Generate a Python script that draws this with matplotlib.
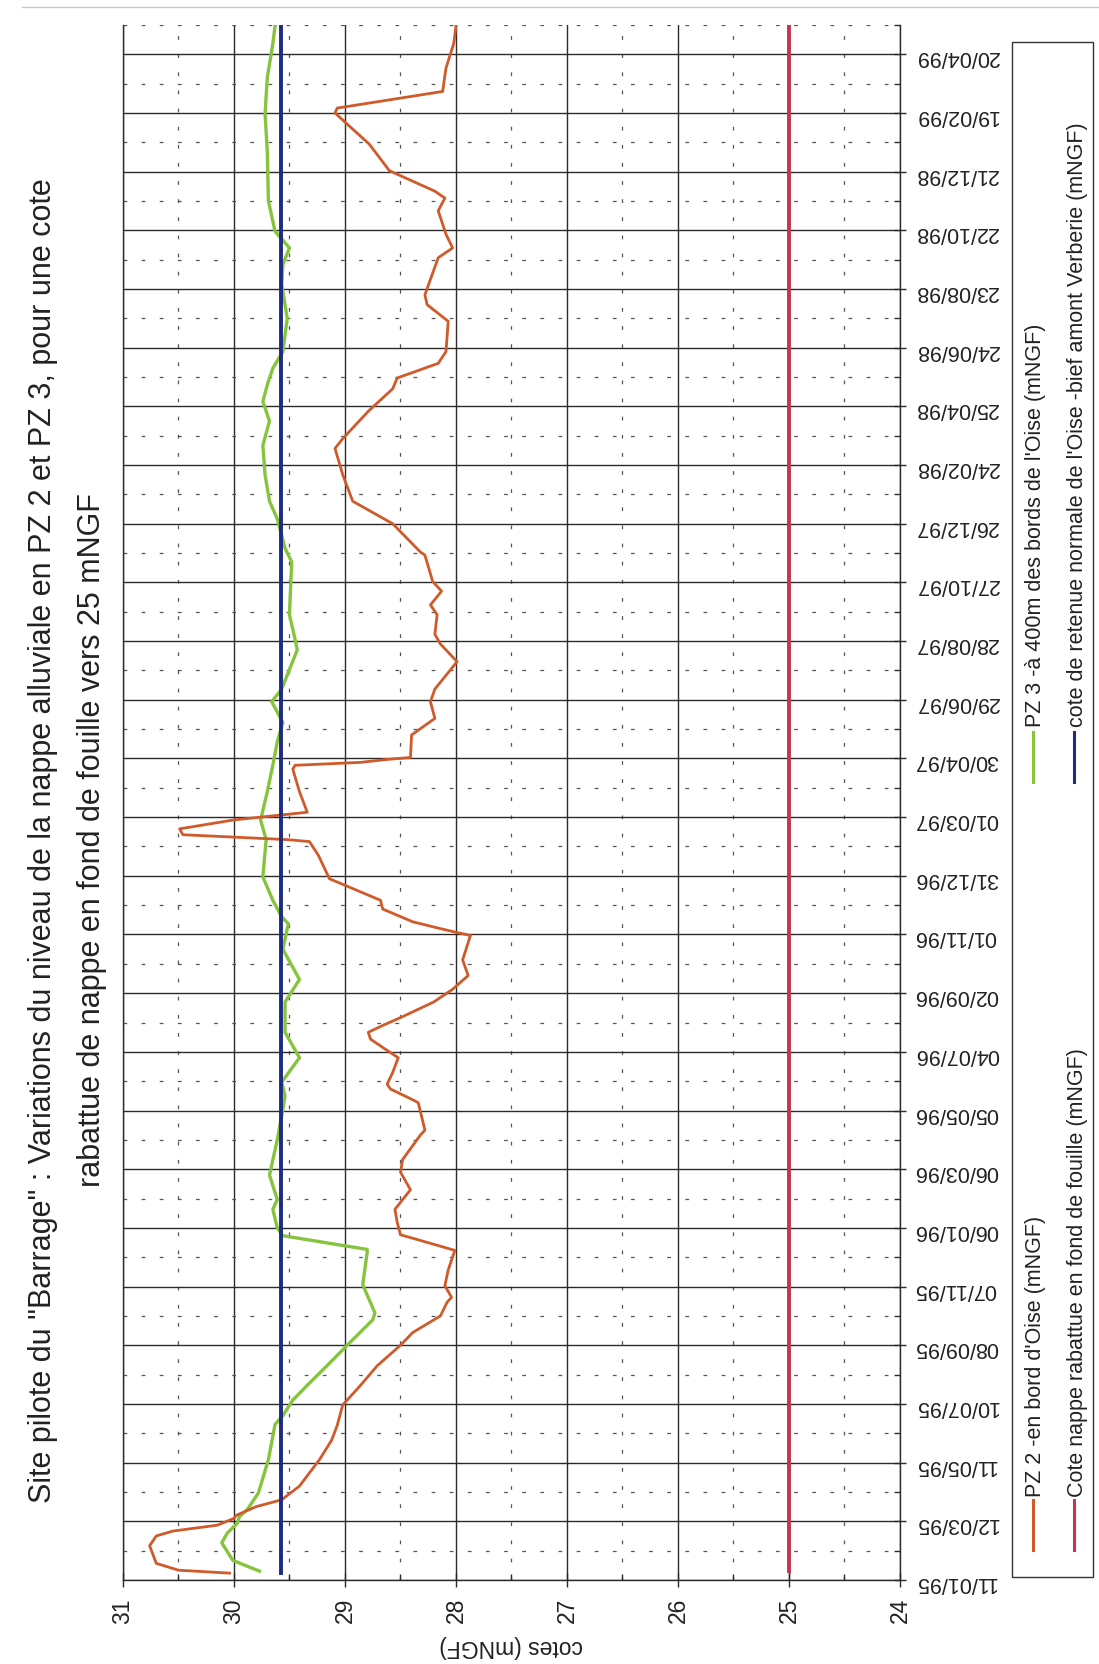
import numpy as np
import pandas as pd
import matplotlib
matplotlib.use("Agg")
import matplotlib.pyplot as plt
import matplotlib.dates as mdates
from matplotlib.ticker import MultipleLocator, FixedLocator
from matplotlib.lines import Line2D
from matplotlib.patches import Rectangle

plt.rcParams['font.family'] = ['Liberation Sans', 'DejaVu Sans']

# ---------------- data ----------------
START = pd.Timestamp('1995-01-11')
TICK_STEP_DAYS = 60
N_MAJOR = 27
AXIS_END_DAYS = 1590

# PZ 2 (days since 11/01/95, cote mNGF)
pz2_days = [7, 10, 17, 35, 45, 50, 56, 63, 66, 69, 75, 82, 96, 123, 143, 158, 179, 199, 219, 240,
            253, 270, 284, 289, 301, 317, 337, 353, 366, 379, 399, 417, 430, 455, 460, 488, 491, 502,
            507, 519, 534, 543, 553, 560, 567, 575, 591, 604, 618, 634, 659, 662, 666, 673, 686, 695,
            717, 741, 755, 757, 762, 768, 777, 785, 806, 829, 833, 836, 839, 841, 864, 881, 898, 911,
            939, 957, 967, 987, 997, 1011, 1021, 1048, 1051, 1080, 1103, 1130, 1157, 1167, 1195, 1218,
            1229, 1244, 1256, 1287, 1304, 1314, 1352, 1362, 1376, 1400, 1413, 1420, 1441, 1468, 1500,
            1505, 1522, 1546, 1571, 1589]
pz2_cote = [30.04, 30.50, 30.70, 30.76, 30.70, 30.55, 30.15, 30.00, 29.98, 29.92, 29.80, 29.57, 29.41,
            29.23, 29.12, 29.07, 29.02, 28.86, 28.71, 28.50, 28.39, 28.14, 28.08, 28.04, 28.10, 28.07,
            28.01, 28.50, 28.53, 28.55, 28.41, 28.50, 28.48, 28.32, 28.28, 28.34, 28.39, 28.59, 28.62,
            28.57, 28.52, 28.64, 28.77, 28.79, 28.66, 28.50, 28.20, 28.03, 27.89, 27.94, 27.87, 27.99,
            28.14, 28.39, 28.66, 28.68, 29.14, 29.24, 29.32, 29.52, 30.46, 30.49, 30.01, 29.34, 29.41,
            29.47, 29.45, 28.86, 28.62, 28.41, 28.40, 28.19, 28.23, 28.19, 27.99, 28.14, 28.19, 28.17,
            28.23, 28.13, 28.21, 28.28, 28.32, 28.57, 28.93, 29.02, 29.09, 29.02, 28.79, 28.57, 28.53,
            28.16, 28.09, 28.07, 28.26, 28.28, 28.16, 28.03, 28.09, 28.16, 28.10, 28.19, 28.60, 28.78,
            29.09, 29.07, 28.12, 28.09, 28.02, 28.00]

# PZ 3
pz3_days = [9, 20, 38, 48, 58, 65, 72, 89, 123, 159, 168, 184, 199, 225, 240, 266, 273, 302, 335, 338,
            352, 360, 379, 389, 414, 450, 481, 495, 509, 534, 560, 591, 614, 645, 671, 678, 695, 719,
            757, 777, 806, 833, 857, 877, 898, 911, 951, 962, 987, 1041, 1055, 1085, 1103, 1130, 1160,
            1185, 1205, 1222, 1239, 1256, 1290, 1325, 1345, 1362, 1379, 1410, 1461, 1499, 1536, 1571,
            1589]
pz3_cote = [29.77, 30.01, 30.11, 30.06, 29.97, 29.95, 29.88, 29.78, 29.69, 29.63, 29.56, 29.47, 29.34,
            29.11, 28.98, 28.75, 28.73, 28.84, 28.80, 28.80, 29.56, 29.61, 29.65, 29.61, 29.68, 29.61,
            29.56, 29.54, 29.57, 29.41, 29.54, 29.54, 29.41, 29.56, 29.51, 29.57, 29.65, 29.74, 29.71,
            29.76, 29.70, 29.65, 29.61, 29.56, 29.66, 29.57, 29.43, 29.45, 29.50, 29.48, 29.54, 29.61,
            29.68, 29.72, 29.74, 29.68, 29.74, 29.70, 29.65, 29.56, 29.52, 29.57, 29.56, 29.50, 29.63,
            29.69, 29.70, 29.72, 29.70, 29.65, 29.63]

# constant levels
retenue_days = [7, 1589]
retenue_cote = [29.58, 29.58]
fouille_days = [9, 1589]
fouille_cote = [25.0, 25.0]

title_text = ('Site pilote du "Barrage" : Variations du niveau de la nappe alluviale en PZ 2 et PZ 3, pour une cote\n'
              'rabattue de nappe en fond de fouille vers 25 mNGF')
axis_label = 'cotes (mNGF)'
lab_pz2 = "PZ 2 -en bord d'Oise (mNGF)"
lab_fouille = 'Cote nappe rabattue en fond de fouille (mNGF)'
lab_pz3 = "PZ 3 -à 400m des bords de l'Oise (mNGF)"
lab_retenue = "cote de retenue normale de l'Oise -bief amont Verberie (mNGF)"

c_pz2 = '#cf5a2a'
c_pz3 = '#86c43e'
c_ret = '#1d2b82'
c_fou = '#c23650'
c_txt = '#222222'


def to_num(days):
    d = START + pd.to_timedelta(np.asarray(days, dtype=float), unit='D')
    return mdates.date2num(d.to_pydatetime())


# ---------------- figure ----------------
fig = plt.figure(figsize=(10.99, 16.64), dpi=100)
fig.patch.set_facecolor('white')
ax = fig.add_axes([0.1119, 0.0505, 0.7070, 0.9345])

ax.plot(pz2_cote, to_num(pz2_days), color=c_pz2, lw=2.0, zorder=4)
ax.plot(pz3_cote, to_num(pz3_days), color=c_pz3, lw=2.4, zorder=3)
ax.plot(retenue_cote, to_num(retenue_days), color=c_ret, lw=2.8, zorder=5)
ax.plot(fouille_cote, to_num(fouille_days), color=c_fou, lw=2.8, zorder=5)

ax.set_xlim(31, 24)
ax.set_ylim(to_num([0])[0], to_num([AXIS_END_DAYS])[0])

ax.xaxis.set_major_locator(MultipleLocator(1))
ax.xaxis.set_minor_locator(MultipleLocator(0.5))
ax.xaxis.set_major_formatter(matplotlib.ticker.FuncFormatter(lambda v, p: f'{v:.0f}'))

major_days = [TICK_STEP_DAYS * k for k in range(N_MAJOR)]
minor_days = [TICK_STEP_DAYS * k + TICK_STEP_DAYS // 2 for k in range(N_MAJOR)]
ax.yaxis.set_major_locator(FixedLocator(to_num(major_days)))
ax.yaxis.set_minor_locator(FixedLocator(to_num(minor_days)))
ax.yaxis.set_major_formatter(mdates.DateFormatter('%d/%m/%y'))

ax.set_axisbelow(True)
ax.grid(which='major', color='#2a2a2a', lw=1.0, ls='-')
ax.grid(which='minor', color='#555555', lw=0.9, ls=(0, (3, 11.5)))

for side in ['left', 'right', 'bottom']:
    ax.spines[side].set_color('#2a2a2a')
    ax.spines[side].set_linewidth(1.0)
ax.spines['top'].set_visible(False)

ax.yaxis.tick_right()
ax.tick_params(axis='y', which='major', direction='inout', length=9, width=1.0,
               color='#2a2a2a', labelsize=15.5, pad=6, labelrotation=180, labelcolor=c_txt)
ax.tick_params(axis='y', which='minor', direction='in', length=4, width=1.0, color='#2a2a2a')
ax.tick_params(axis='x', which='major', direction='inout', length=10, width=1.0,
               color='#2a2a2a', labelsize=16.5, pad=8, labelrotation=90, labelcolor=c_txt)
ax.tick_params(axis='x', which='minor', direction='in', length=4, width=1.0, color='#2a2a2a')

ax.set_xlabel(axis_label, fontsize=16.5, rotation=180, color=c_txt, va='center')
ax.xaxis.set_label_coords(0.5, -0.043)

# title (rotated page)
fig.text(0.0614, 0.495, title_text, rotation=90, ha='center', va='center', fontsize=22,
         linespacing=1.8, multialignment='center', color=c_txt)

# legend (drawn manually because the whole page is rotated)
fig.add_artist(Rectangle((0.9208, 0.0523), 0.0737, 0.9225, transform=fig.transFigure,
                         fill=False, edgecolor='#333333', lw=1.0))
col_x = [1036 / 1099, 1077 / 1099]
ent_y = [(0.0685, 0.0986, 0.1004), (0.530, 0.560, 0.5631)]
entries = [(0, 0, c_pz2, lab_pz2), (1, 0, c_fou, lab_fouille),
           (0, 1, c_pz3, lab_pz3), (1, 1, c_ret, lab_retenue)]
for ci, ei, col, lab in entries:
    y0, y1, yt = ent_y[ei]
    fig.add_artist(Line2D([col_x[ci] - 3 / 1099, col_x[ci] - 3 / 1099], [y0, y1],
                          transform=fig.transFigure, color=col, lw=2.2))
    fig.text(col_x[ci], yt, lab, rotation=90, ha='center', va='bottom',
             fontsize=15.5, color=c_txt)

# scanned page edge at top
fig.add_artist(Line2D([0.02, 1.0], [0.9958, 0.9958], transform=fig.transFigure,
                      color='#c8c8c8', lw=1.0))

fig.savefig('out.png', dpi=100, facecolor='white')
